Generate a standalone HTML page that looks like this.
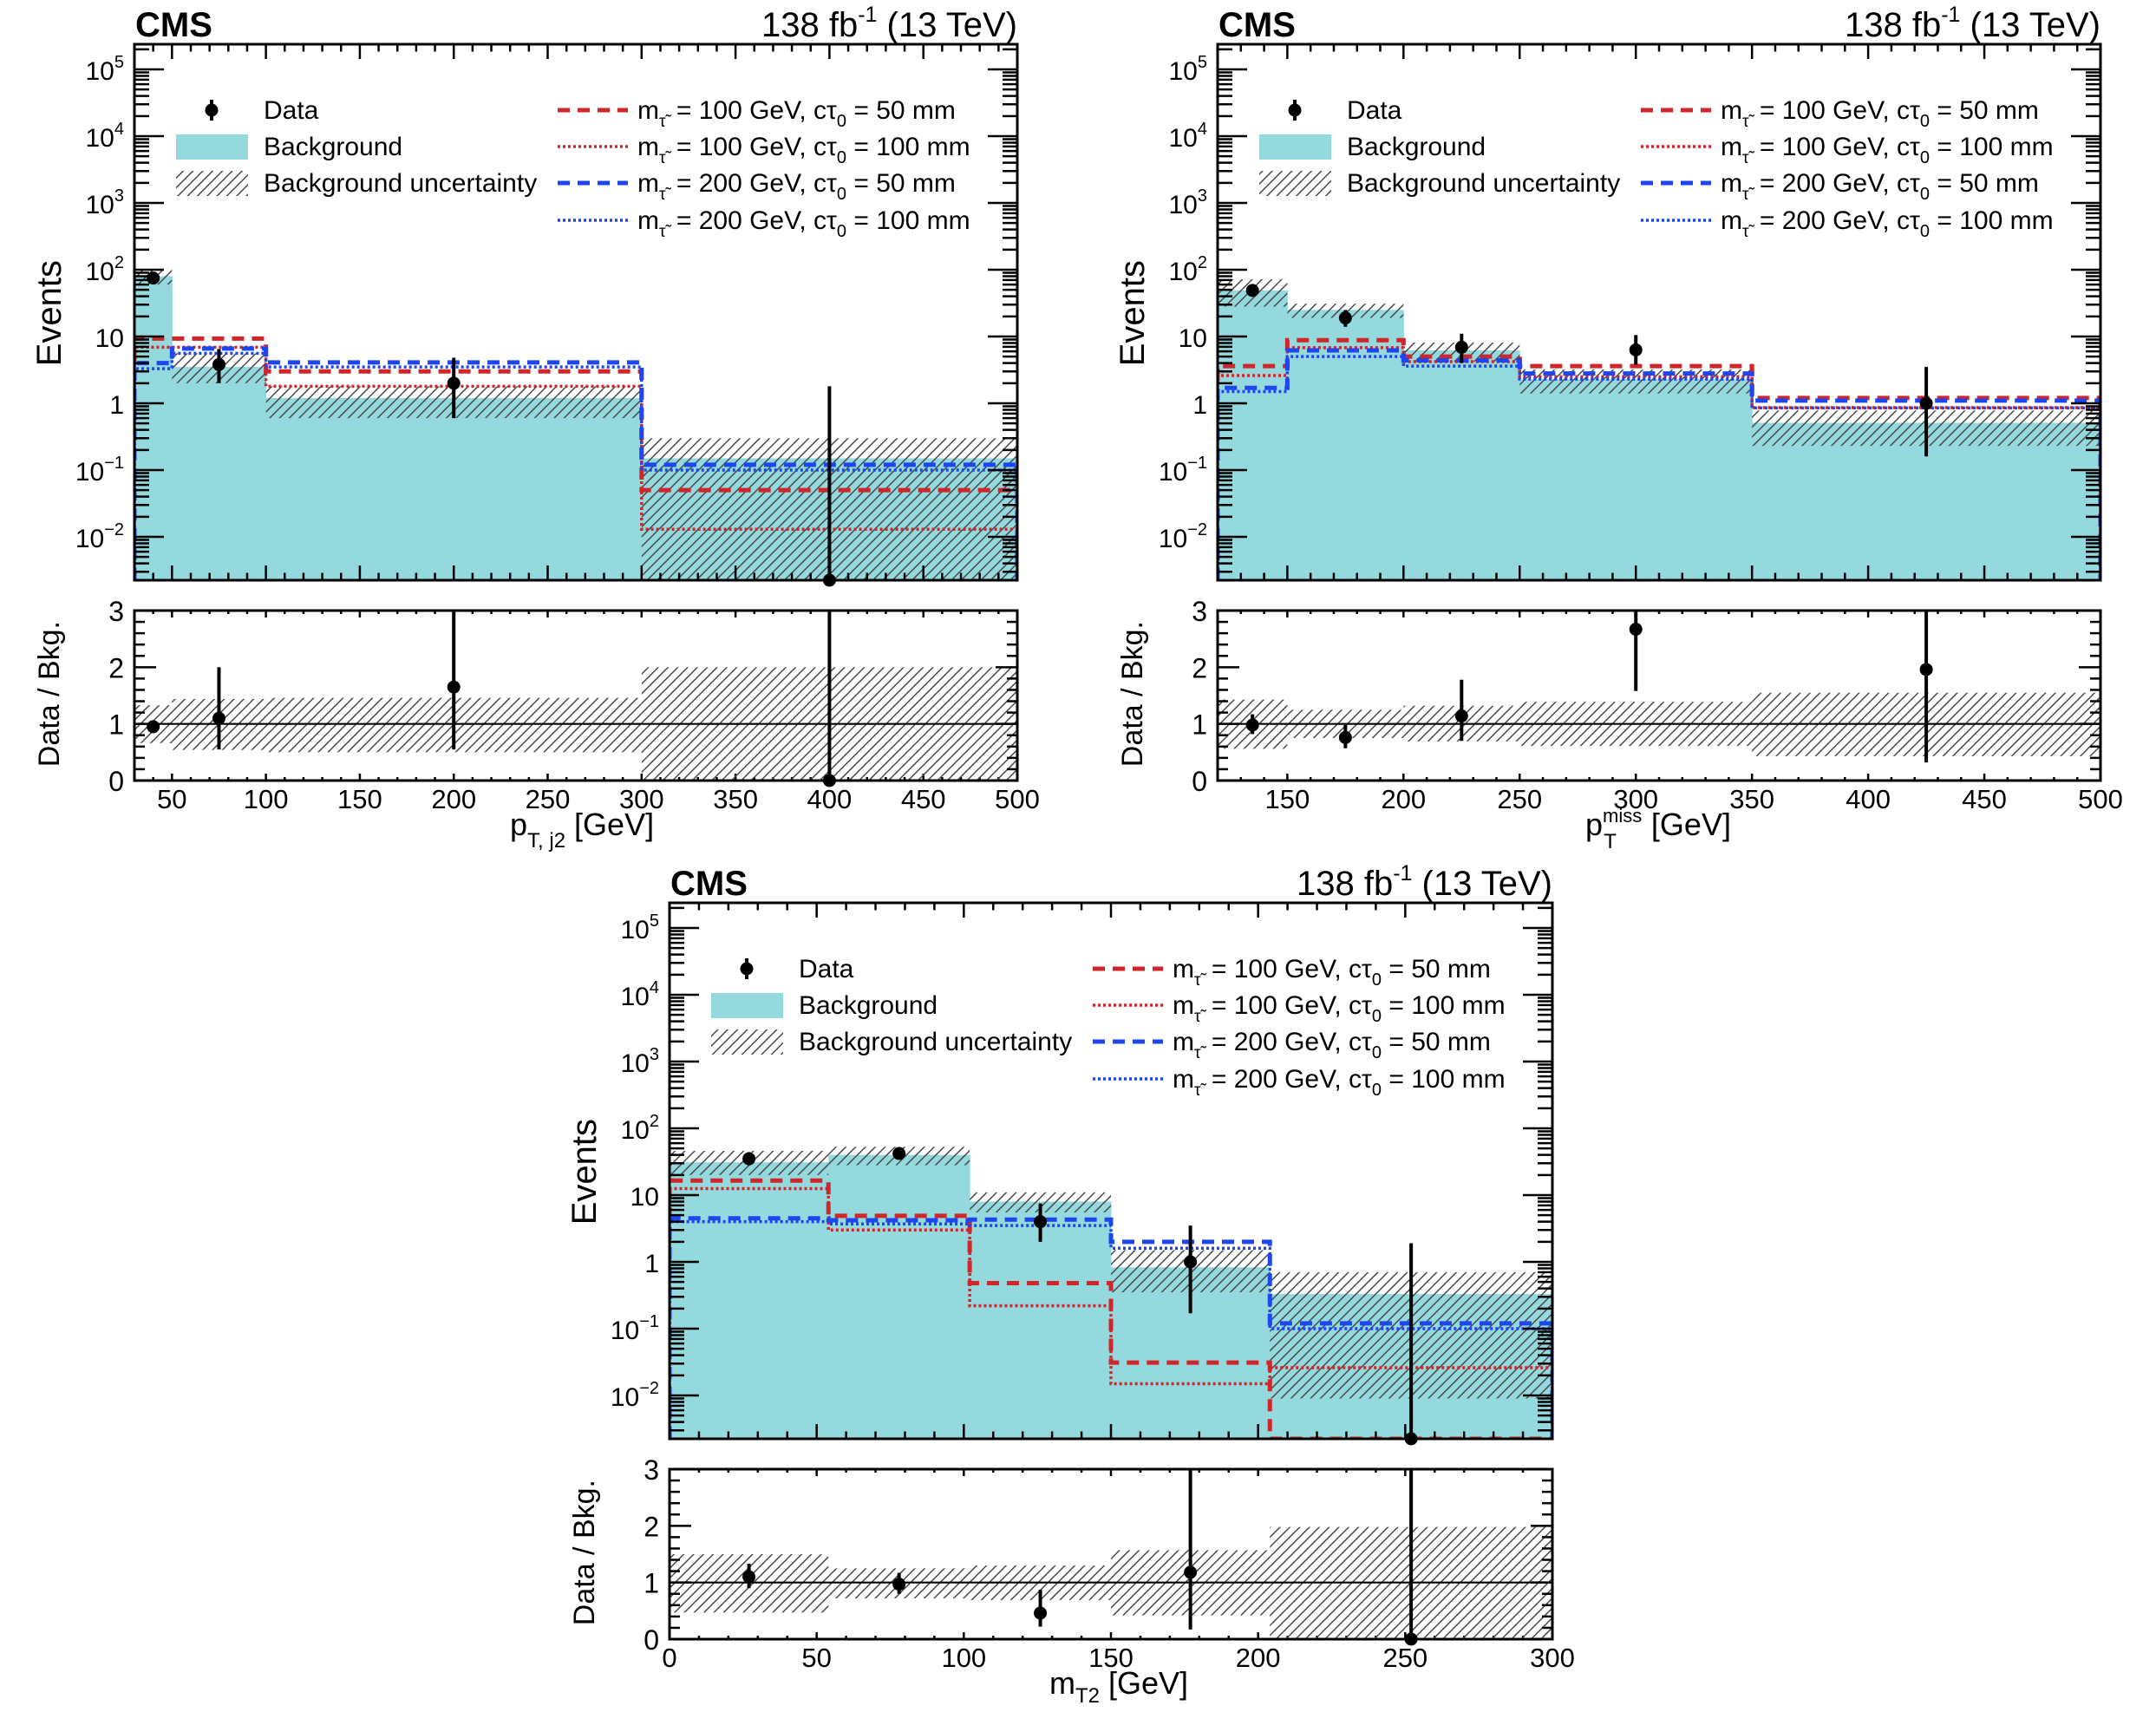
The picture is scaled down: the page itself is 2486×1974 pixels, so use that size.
<!DOCTYPE html>
<html><head><meta charset="utf-8">
<style>
html,body{margin:0;padding:0;background:#fff;}
svg{display:block;font-family:"Liberation Sans",Arial,sans-serif;}
</style></head>
<body>
<svg id="fig" xmlns="http://www.w3.org/2000/svg" width="2486" height="1974" viewBox="0 0 2486 1974">
<defs>
<pattern id="hatch" patternUnits="userSpaceOnUse" width="8" height="8" patternTransform="rotate(45)">
<line x1="0" y1="0" x2="0" y2="8" stroke="#4a4a4a" stroke-width="3"/>
</pattern>
</defs>
</svg>
<script>
// ---------- Panel 1: pT,j2 ----------
const p1Edges = [30, 50, 100, 300, 500];
const p1Bkg = [80, 3.5, 1.2, 0.15];
const p1BkgUp = [100, 5.6, 1.8, 0.3];
const p1BkgDn = [60, 2.0, 0.6, 0];
const p1Data = [75, 3.8, 2, 0];
const p1DataUp = [85, 6.5, 4.8, 1.8];
const p1DataDn = [65, 2.0, 0.6, 0];
const p1SigA = [9.3, 9.3, 3.0, 0.05];
const p1SigB = [6.9, 6.9, 1.8, 0.013];
const p1SigC = [4.0, 6.6, 4.1, 0.12];
const p1SigD = [3.3, 5.6, 3.5, 0.10];
const p1Ratio = [0.95, 1.1, 1.65, 0];
const p1RatioUp = [1.05, 2.0, 3.2, 3.2];
const p1RatioDn = [0.85, 0.55, 0.55, 0];
const p1BandUp = [1.33, 1.44, 1.46, 2.0];
const p1BandDn = [0.66, 0.54, 0.5, 0];
const p1Ticks = [50, 100, 150, 200, 250, 300, 350, 400, 450, 500];

// ---------- Panel 2: pT miss ----------
const p2Edges = [120, 150, 200, 250, 350, 500];
const p2Bkg = [49, 25, 6.2, 2.3, 0.51];
const p2BkgUp = [72, 31, 8.1, 3.2, 0.78];
const p2BkgDn = [28, 19, 4.2, 1.4, 0.23];
const p2Data = [49, 19, 6.9, 6.3, 1.0];
const p2DataUp = [60, 25, 11, 10.5, 3.5];
const p2DataDn = [40, 14, 4, 3.8, 0.16];
const p2SigA = [3.6, 8.8, 5.0, 3.6, 1.2];
const p2SigB = [2.6, 6.8, 4.2, 2.5, 0.86];
const p2SigC = [1.7, 6.2, 4.4, 2.8, 1.1];
const p2SigD = [1.5, 5.0, 3.6, 2.3, 0.85];
const p2Ratio = [0.98, 0.76, 1.14, 2.67, 1.96];
const p2RatioUp = [1.17, 0.98, 1.78, 3.2, 3.2];
const p2RatioDn = [0.82, 0.57, 0.7, 1.58, 0.32];
const p2BandUp = [1.43, 1.25, 1.32, 1.39, 1.55];
const p2BandDn = [0.56, 0.75, 0.69, 0.61, 0.43];
const p2Ticks = [150, 200, 250, 300, 350, 400, 450, 500];

// ---------- Panel 3: mT2 ----------
const p3Edges = [0, 54, 102, 150, 204, 300];
const p3Bkg = [31, 40, 8, 0.83, 0.33];
const p3BkgUp = [46, 53, 11, 1.5, 0.7];
const p3BkgDn = [20, 28, 5.5, 0.35, 0.009];
const p3Data = [35, 42, 4, 1, 0];
const p3DataUp = [44, 52, 7.5, 3.5, 1.9];
const p3DataDn = [28, 35, 2, 0.17, 0];
const p3SigA = [16.5, 4.9, 0.48, 0.031, 0];
const p3SigB = [12.5, 3.0, 0.22, 0.015, 0.026];
const p3SigC = [4.5, 4.2, 4.3, 2.0, 0.12];
const p3SigD = [4.0, 3.7, 3.5, 1.6, 0.10];
const p3Ratio = [1.1, 0.97, 0.46, 1.18, 0];
const p3RatioUp = [1.33, 1.17, 0.87, 3.2, 3.2];
const p3RatioDn = [0.9, 0.8, 0.22, 0.17, 0];
const p3BandUp = [1.5, 1.25, 1.3, 1.57, 1.98];
const p3BandDn = [0.47, 0.72, 0.69, 0.42, 0];
const p3Ticks = [0, 50, 100, 150, 200, 250, 300];

const NS = "http://www.w3.org/2000/svg";
const svg = document.getElementById('fig');
function mk(tag, attrs, name, parent) {
  const e = document.createElementNS(NS, tag);
  for (const k in attrs) e.setAttribute(k, attrs[k]);
  
  
  (parent || svg).appendChild(e);
  return e;
}
function tspan(parent, txt, attrs) {
  const t = document.createElementNS(NS, 'tspan');
  for (const k in attrs) t.setAttribute(k, attrs[k]);
  t.textContent = txt;
  parent.appendChild(t);
  return t;
}

const W = 1018, MH = 618, RT = 653, RH = 196;
const RED = '#d0262a', BLUE = '#1e46f0', CYAN = '#93d9dd';

function drawPanel(cfg) {
  const L = cfg.left, T = cfg.top, R = L + W, B = T + MH;
  const x0 = cfg.edges[0], x1 = cfg.edges[cfg.edges.length - 1];
  const xs = v => L + (v - x0) / (x1 - x0) * W;
  const ys = v => v <= 0 ? B : Math.min(B, T + 29 + (5 - Math.log10(v)) * 77);
  const rT = T + RT, rB = rT + RH;
  const ry = r => Math.max(rT, Math.min(rB, rB - r / 3 * RH));
  const g = mk('g', {}, cfg.name);
  const n = cfg.bkg.length;
  const clipId = cfg.name + '-clip';
  const cp = mk('clipPath', {id: clipId}, 'clip', g);
  mk('rect', {x: L, y: T, width: W, height: MH}, 'clip-rect', cp);
  const main = mk('g', {'clip-path': 'url(#' + clipId + ')'}, 'main-plot-area', g);
  for (let i = 0; i < n; i++) {
    const a = xs(cfg.edges[i]), b = xs(cfg.edges[i + 1]);
    mk('rect', {x: a, y: ys(cfg.bkg[i]), width: b - a + 0.5, height: B - ys(cfg.bkg[i]), fill: CYAN}, 'background-bar', main);
  }
  for (let i = 0; i < n; i++) {
    const a = xs(cfg.edges[i]), b = xs(cfg.edges[i + 1]);
    const yu = ys(cfg.bkgUp[i]), yd = ys(cfg.bkgDn[i]);
    mk('rect', {x: a, y: yu, width: b - a, height: yd - yu, fill: 'url(#hatch)'}, 'background-uncertainty', main);
  }
  const sigs = [
    [cfg.sA, RED, 5, '14 9', 'signal-100gev-50mm'],
    [cfg.sB, RED, 3.5, '3 3', 'signal-100gev-100mm'],
    [cfg.sC, BLUE, 5, '14 9', 'signal-200gev-50mm'],
    [cfg.sD, BLUE, 3.5, '3 3', 'signal-200gev-100mm']
  ];
  sigs.forEach(s => {
    let d = 'M' + xs(cfg.edges[0]) + ',' + B;
    for (let i = 0; i < n; i++) {
      d += ' V' + ys(s[0][i]) + ' H' + xs(cfg.edges[i + 1]);
    }
    d += ' V' + B;
    mk('path', {d: d, fill: 'none', stroke: s[1], 'stroke-width': s[2], 'stroke-dasharray': s[3]}, s[4], main);
  });
  for (let i = 0; i < n; i++) {
    const cx = xs((cfg.edges[i] + cfg.edges[i + 1]) / 2);
    mk('line', {x1: cx, x2: cx, y1: ys(cfg.dUp[i]), y2: ys(cfg.dDn[i]), stroke: '#000', 'stroke-width': 4}, 'data-error-bar', g);
    mk('circle', {cx: cx, cy: ys(cfg.data[i]), r: 7.5, fill: '#000'}, 'data-point', g);
  }
  mk('rect', {x: L, y: T, width: W, height: MH, fill: 'none', stroke: '#000', 'stroke-width': 3}, 'main-frame', g);
  const ax = mk('g', {stroke: '#000', 'stroke-width': 2.5}, 'y-axis-ticks', g);
  for (let e = -3; e <= 5; e++) {
    for (let m = 1; m <= 9; m++) {
      const v = m * Math.pow(10, e);
      const y = T + 29 + (5 - Math.log10(v)) * 77;
      if (y < T + 1 || y > B - 1) continue;
      const len = m === 1 ? 34 : 17;
      mk('line', {x1: L, x2: L + len, y1: y, y2: y}, 'y-tick', ax);
      mk('line', {x1: R, x2: R - len, y1: y, y2: y}, 'y-tick-right', ax);
    }
  }
  const labs = [[5, '10', '5'], [4, '10', '4'], [3, '10', '3'], [2, '10', '2'], [1, '10', ''], [0, '1', ''], [-1, '10', '\u22121'], [-2, '10', '\u22122']];
  labs.forEach(l => {
    const y = T + 29 + (5 - l[0]) * 77;
    const t = mk('text', {x: L - 12, y: y + 12, 'text-anchor': 'end', 'font-size': 30}, 'y-tick-label', g);
    tspan(t, l[1], {});
    if (l[2]) {
      tspan(t, l[2], {'font-size': 20, dy: -14});
    }
  });
  const xt = mk('g', {stroke: '#000', 'stroke-width': 2.5}, 'x-axis-ticks', g);
  const step = cfg.minor;
  for (let v = Math.ceil(x0 / step) * step; v <= x1; v += step) {
    const x = xs(v);
    if (x < L + 1 || x > R - 1) continue;
    const major = Math.abs(v / cfg.major - Math.round(v / cfg.major)) < 1e-6;
    const lm = major ? 17 : 8.5, lr = major ? 8 : 4;
    mk('line', {x1: x, x2: x, y1: B, y2: B - lm}, 'x-tick', xt);
    mk('line', {x1: x, x2: x, y1: T, y2: T + lm}, 'x-tick-top', xt);
    mk('line', {x1: x, x2: x, y1: rB, y2: rB - lr}, 'ratio-x-tick', xt);
    mk('line', {x1: x, x2: x, y1: rT, y2: rT + lr}, 'ratio-x-tick-top', xt);
  }
  cfg.ticks.forEach(v => {
    const t = mk('text', {x: xs(v), y: rB + 32, 'text-anchor': 'middle', 'font-size': 31}, 'x-tick-label', g);
    t.textContent = String(v);
  });
  for (let i = 0; i < n; i++) {
    const a = xs(cfg.edges[i]), b = xs(cfg.edges[i + 1]);
    const yu = ry(cfg.bUp[i]), yd = ry(cfg.bDn[i]);
    mk('rect', {x: a, y: yu, width: b - a, height: yd - yu, fill: 'url(#hatch)'}, 'ratio-uncertainty-band', g);
  }
  mk('line', {x1: L, x2: R, y1: ry(1), y2: ry(1), stroke: '#000', 'stroke-width': 2.2}, 'ratio-unity-line', g);
  for (let i = 0; i < n; i++) {
    const cx = xs((cfg.edges[i] + cfg.edges[i + 1]) / 2);
    mk('line', {x1: cx, x2: cx, y1: ry(cfg.rUp[i]), y2: ry(cfg.rDn[i]), stroke: '#000', 'stroke-width': 4}, 'ratio-error-bar', g);
    mk('circle', {cx: cx, cy: ry(cfg.ratio[i]), r: 7.5, fill: '#000'}, 'ratio-point', g);
  }
  mk('rect', {x: L, y: rT, width: W, height: RH, fill: 'none', stroke: '#000', 'stroke-width': 3}, 'ratio-frame', g);
  const rt = mk('g', {stroke: '#000', 'stroke-width': 2.5}, 'ratio-y-ticks', g);
  for (let k = 1; k < 15; k++) {
    const r = k * 0.2, y = ry(r);
    const len = (k % 5 === 0) ? 25 : 12;
    mk('line', {x1: L, x2: L + len, y1: y, y2: y}, 'ratio-y-tick', rt);
    mk('line', {x1: R, x2: R - len, y1: y, y2: y}, 'ratio-y-tick-right', rt);
  }
  ['0', '1', '2', '3'].forEach((s, k) => {
    const t = mk('text', {x: L - 12, y: ry(k) + 12, 'text-anchor': 'end', 'font-size': 32}, 'ratio-y-tick-label', g);
    t.textContent = s;
  });
  const cms = mk('text', {x: L + 1, y: T - 9, 'font-size': 40, 'font-weight': 'bold'}, 'cms-label', g);
  cms.textContent = 'CMS';
  const lumi = mk('text', {x: R, y: T - 9, 'text-anchor': 'end', 'font-size': 40}, 'lumi-label', g);
  tspan(lumi, '138 fb', {});
  tspan(lumi, '-1', {'font-size': 25, dy: -17});
  tspan(lumi, ' (13 TeV)', {dy: 17});
  const ev = mk('text', {transform: 'translate(' + (L - 85) + ',' + (T + 249) + ') rotate(-90)', 'text-anchor': 'end', 'font-size': 40}, 'y-axis-title', g);
  ev.textContent = 'Events';
  const db = mk('text', {transform: 'translate(' + (L - 87) + ',' + (T + 665) + ') rotate(-90)', 'text-anchor': 'end', 'font-size': 34}, 'ratio-y-axis-title', g);
  db.textContent = 'Data / Bkg.';
  const xt2 = mk('text', {x: L + cfg.xtitleX, y: rB + 63, 'font-size': 36}, 'x-axis-title', g);
  cfg.xtitle(xt2);
  const lg = mk('g', {}, 'legend', g);
  const rows = [76, 118, 160, 203].map(v => T + v);
  mk('line', {x1: L + 89, x2: L + 89, y1: rows[0] - 12, y2: rows[0] + 12, stroke: '#000', 'stroke-width': 4}, 'legend-data-bar', lg);
  mk('circle', {cx: L + 89, cy: rows[0], r: 7.5, fill: '#000'}, 'legend-data-marker', lg);
  mk('rect', {x: L + 48, y: rows[1] - 14, width: 83, height: 29, fill: CYAN}, 'legend-background-swatch', lg);
  mk('rect', {x: L + 48, y: rows[2] - 14, width: 83, height: 29, fill: 'url(#hatch)'}, 'legend-uncertainty-swatch', lg);
  ['Data', 'Background', 'Background uncertainty'].forEach((s, k) => {
    const t = mk('text', {x: L + 149, y: rows[k] + 10, 'font-size': 30}, 'legend-entry', lg);
    t.textContent = s;
  });
  const sl = [['100', '50'], ['100', '100'], ['200', '50'], ['200', '100']];
  sigs.forEach((s, k) => {
    mk('line', {x1: L + 488, x2: L + 569, y1: rows[k], y2: rows[k], stroke: s[1], 'stroke-width': s[2], 'stroke-dasharray': s[3]}, 'legend-signal-line', lg);
    const t = mk('text', {x: L + 580, y: rows[k] + 10, 'font-size': 30}, 'legend-entry', lg);
    tspan(t, 'm', {});
    tspan(t, '\u03C4\u0303', {'font-size': 19, dy: 9});
    tspan(t, ' = ' + sl[k][0] + ' GeV, c\u03C4', {dx: 4, dy: -9});
    tspan(t, '0', {'font-size': 20, dy: 9});
    tspan(t, ' = ' + sl[k][1] + ' mm', {dy: -9});
  });
}

drawPanel({name: 'panel-ptj2', left: 155, top: 51, edges: p1Edges, bkg: p1Bkg, bkgUp: p1BkgUp, bkgDn: p1BkgDn,
  data: p1Data, dUp: p1DataUp, dDn: p1DataDn, sA: p1SigA, sB: p1SigB, sC: p1SigC, sD: p1SigD,
  ratio: p1Ratio, rUp: p1RatioUp, rDn: p1RatioDn, bUp: p1BandUp, bDn: p1BandDn, ticks: p1Ticks, major: 50, minor: 10,
  xtitleX: 433, xtitle: t => { tspan(t, 'p', {}); tspan(t, 'T, j2', {'font-size': 24, dy: 14}); tspan(t, ' [GeV]', {dy: -14}); }});
drawPanel({name: 'panel-ptmiss', left: 1404, top: 51, edges: p2Edges, bkg: p2Bkg, bkgUp: p2BkgUp, bkgDn: p2BkgDn,
  data: p2Data, dUp: p2DataUp, dDn: p2DataDn, sA: p2SigA, sB: p2SigB, sC: p2SigC, sD: p2SigD,
  ratio: p2Ratio, rUp: p2RatioUp, rDn: p2RatioDn, bUp: p2BandUp, bDn: p2BandDn, ticks: p2Ticks, major: 50, minor: 10,
  xtitleX: 424, xtitle: t => { tspan(t, 'p', {}); tspan(t, 'miss', {'font-size': 22, dy: -15}); tspan(t, 'T', {'font-size': 24, dx: -44, dy: 30}); tspan(t, ' [GeV]', {dx: 30, dy: -15}); }});
drawPanel({name: 'panel-mt2', left: 772, top: 1041, edges: p3Edges, bkg: p3Bkg, bkgUp: p3BkgUp, bkgDn: p3BkgDn,
  data: p3Data, dUp: p3DataUp, dDn: p3DataDn, sA: p3SigA, sB: p3SigB, sC: p3SigC, sD: p3SigD,
  ratio: p3Ratio, rUp: p3RatioUp, rDn: p3RatioDn, bUp: p3BandUp, bDn: p3BandDn, ticks: p3Ticks, major: 50, minor: 10,
  xtitleX: 438, xtitle: t => { tspan(t, 'm', {}); tspan(t, 'T2', {'font-size': 24, dy: 10}); tspan(t, ' [GeV]', {dy: -10}); }});
</script>
</body></html>
